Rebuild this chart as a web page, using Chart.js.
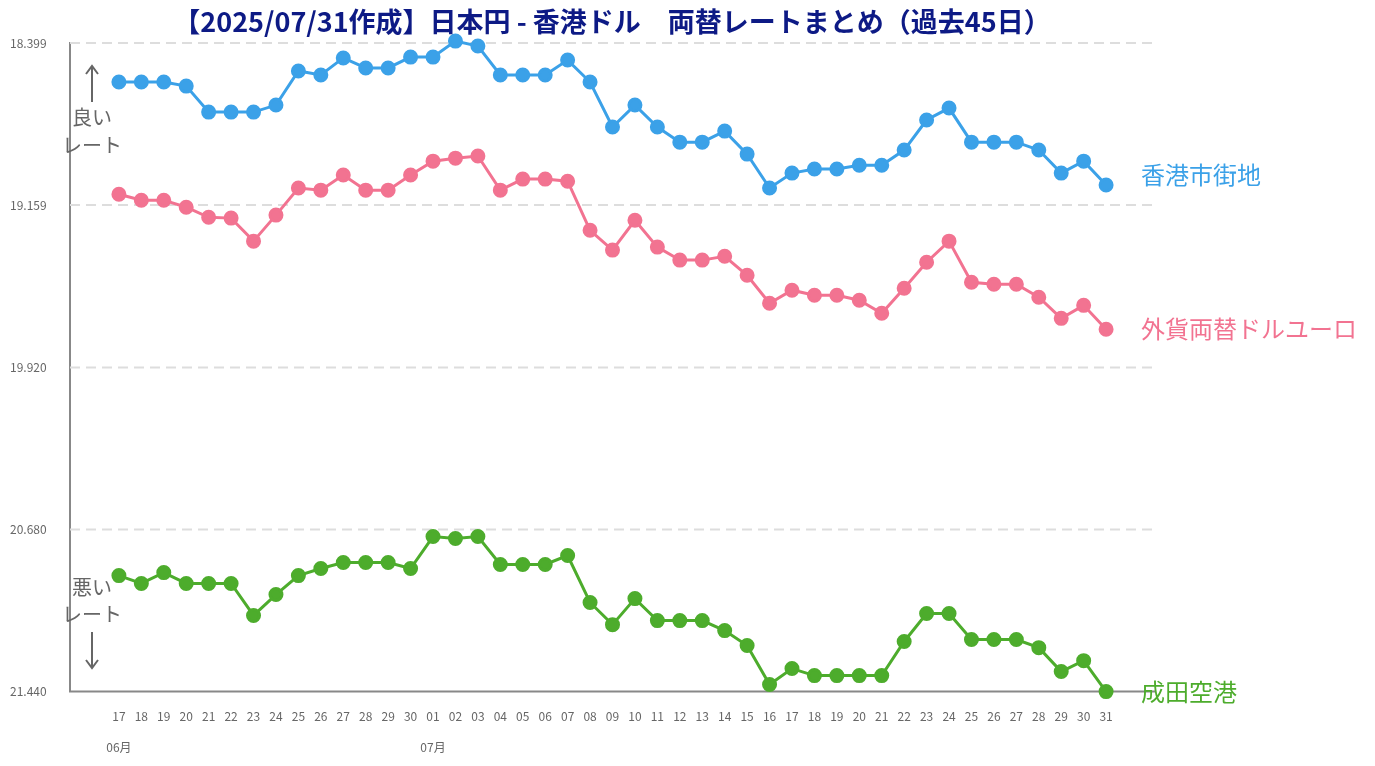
<!DOCTYPE html>
<html><head><meta charset="utf-8">
<script src="https://cdn.jsdelivr.net/npm/chart.js@4"></script>
<style>html,body{margin:0;padding:0;background:#fff}#w{width:1375px;height:766px}</style>
</head><body><div id="w"><canvas id="c"></canvas></div>
<script>
const days=["17","18","19","20","21","22","23","24","25","26","27","28","29","30","01","02","03","04","05","06","07","08","09","10","11","12","13","14","15","16","17","18","19","20","21","22","23","24","25","26","27","28","29","30","31"];
const months=[{i:0,t:"06月"},{i:14,t:"07月"}];
const yTicks=[18.399,19.159,19.920,20.680,21.440];
const hkMarket=[18.582,18.582,18.582,18.601,18.723,18.723,18.723,18.690,18.530,18.549,18.469,18.516,18.516,18.465,18.465,18.390,18.413,18.549,18.549,18.549,18.479,18.582,18.793,18.690,18.793,18.864,18.864,18.812,18.920,19.079,19.009,18.990,18.990,18.972,18.972,18.901,18.760,18.704,18.864,18.864,18.864,18.901,19.009,18.953,19.065];
const fxShop=[19.108,19.136,19.136,19.169,19.216,19.220,19.328,19.206,19.079,19.089,19.018,19.089,19.089,19.018,18.953,18.939,18.929,19.089,19.037,19.037,19.047,19.277,19.370,19.230,19.356,19.417,19.417,19.399,19.488,19.619,19.558,19.582,19.582,19.605,19.666,19.549,19.427,19.328,19.521,19.530,19.530,19.591,19.690,19.629,19.741];
const narita=[20.896,20.933,20.882,20.933,20.933,20.933,21.083,20.985,20.896,20.863,20.835,20.835,20.835,20.863,20.713,20.722,20.713,20.844,20.844,20.844,20.802,21.022,21.126,21.004,21.107,21.107,21.107,21.154,21.224,21.407,21.332,21.365,21.365,21.365,21.365,21.205,21.074,21.074,21.196,21.196,21.196,21.234,21.346,21.295,21.440];
const names=["香港市街地","外貨両替ドルユーロ","成田空港"];
const colors=["#3ba1e8","#f27391","#4dac2c"];
const series=[hkMarket,fxShop,narita];
const labelShift=[-10,0,0];
const FONT="'Noto Sans CJK JP','Noto Sans',sans-serif";

const grid={id:'grid',beforeDatasetsDraw(ch){
  const c=ch.ctx,ys=ch.scales.y,a=ch.chartArea;
  c.save();c.strokeStyle="#ddd";c.lineWidth=2;c.setLineDash([10,6]);
  yTicks.slice(0,-1).forEach(v=>{const y=ys.getPixelForValue(v);c.beginPath();c.moveTo(a.left,y);c.lineTo(a.right,y);c.stroke();});
  c.setLineDash([]);c.strokeStyle="#888";c.beginPath();c.moveTo(a.left-1,a.bottom);c.lineTo(a.right,a.bottom);c.stroke();
  c.fillStyle="#666";c.font="12px "+FONT;c.textAlign="left";c.textBaseline="middle";
  yTicks.forEach(v=>c.fillText(v.toFixed(3),10,ys.getPixelForValue(v)));
  c.restore();
}};
const deco={id:'deco',afterDatasetsDraw(ch){
  const c=ch.ctx,xs=ch.scales.x,ys=ch.scales.y;
  c.save();
  c.font="bold 27px "+FONT;c.fillStyle="#0d1a85";c.textAlign="center";c.textBaseline="middle";
  c.fillText("【2025/07/31作成】日本円 - 香港ドル　両替レートまとめ（過去45日）",612,22);
  c.font="24px "+FONT;c.textAlign="left";
  series.forEach((s,k)=>{c.fillStyle=colors[k];c.fillText(names[k],1141,ys.getPixelForValue(s[s.length-1])+labelShift[k]);});
  c.fillStyle="#666";c.font="12px "+FONT;c.textAlign="center";
  months.forEach(m=>c.fillText(m.t,xs.getPixelForValue(m.i),747));
  c.font="20px "+FONT;c.fillStyle="#666";
  c.fillText("良い",92,117);c.fillText("レート",92,145);
  c.fillText("悪い",92,587);c.fillText("レート",92,614);
  c.strokeStyle="#666";c.lineWidth=2;c.beginPath();
  c.moveTo(92,102);c.lineTo(92,66);c.moveTo(86,74);c.lineTo(92,66);c.lineTo(98,74);
  c.moveTo(92,632);c.lineTo(92,668);c.moveTo(86,660);c.lineTo(92,668);c.lineTo(98,660);
  c.stroke();c.restore();
}};

new Chart(document.getElementById('c'),{
  type:'line',
  data:{datasets:series.map((s,k)=>({label:names[k],data:s.map((v,i)=>({x:i,y:v})),borderColor:colors[k],backgroundColor:colors[k],borderWidth:3,pointRadius:6,pointHoverRadius:6,tension:0,clip:false}))},
  options:{responsive:true,maintainAspectRatio:false,animation:false,
    layout:{padding:{left:0,right:220,top:43,bottom:24}},
    plugins:{legend:{display:false},tooltip:{enabled:false}},
    scales:{
      x:{type:'linear',min:-2.18,max:46.18,
        afterBuildTicks(a){a.ticks=days.map((d,i)=>({value:i}));},
        ticks:{autoSkip:false,maxRotation:0,color:'#666',font:{size:12,family:FONT},callback:(v)=>days[v],padding:18},
        grid:{display:false,drawTicks:false},border:{display:false}},
      y:{reverse:true,min:18.399,max:21.440,
        afterBuildTicks(a){a.ticks=yTicks.map(v=>({value:v}));},
        afterFit(a){a.width=70;},
        ticks:{display:false},
        grid:{display:false,drawTicks:false},border:{color:'#888',width:2}}
    }},
  plugins:[grid,deco]
});
</script></body></html>
